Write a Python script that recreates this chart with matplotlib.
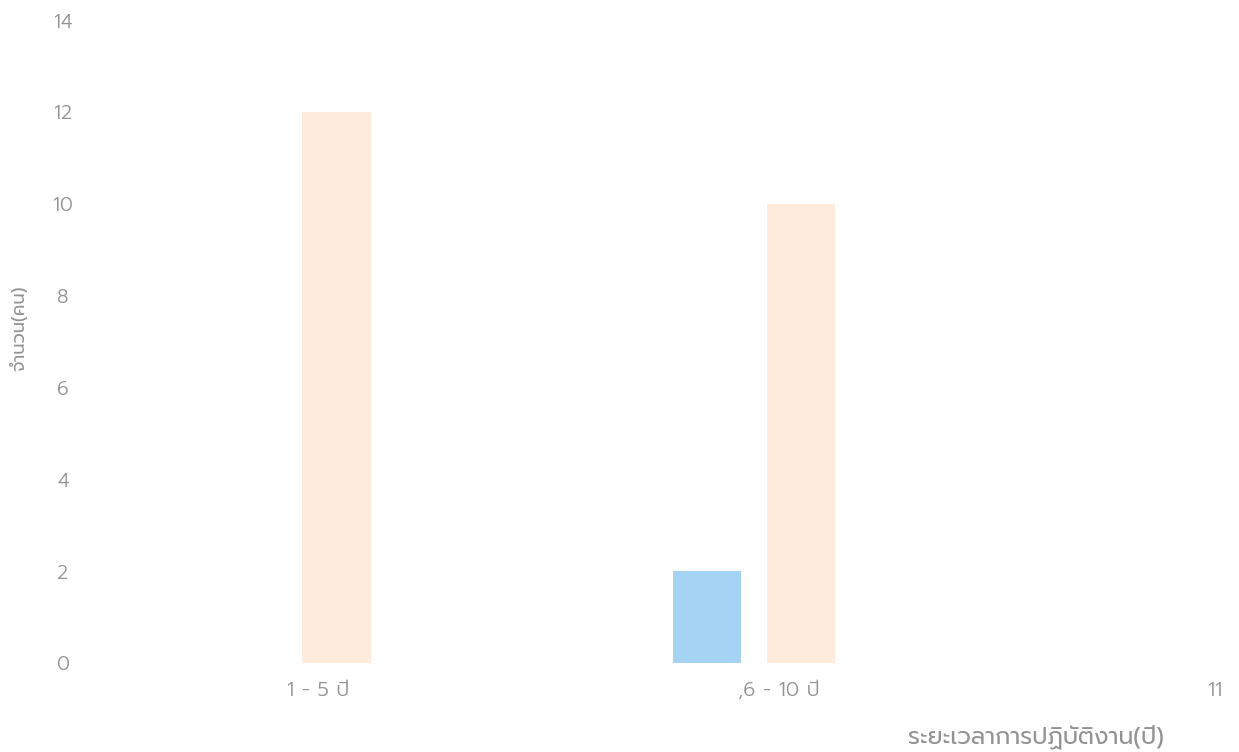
import matplotlib
matplotlib.use("Agg")
import matplotlib.pyplot as plt
import numpy as np

# ข้อมูล
categories = ["1 - 5 ปี", ",6 - 10 ปี", "11"]
blue_vals = [0, 2, 0]
peach_vals = [12, 10, 0]
y_ticks = [0, 2, 4, 6, 8, 10, 12, 14]

plt.rcParams['font.family'] = ['Prompt', 'Kanit', 'DejaVu Sans']
plt.rcParams['font.weight'] = 300

grey = '#939393'
fig = plt.figure(figsize=(12.39, 7.52), dpi=100)
ax = fig.add_axes([95/1239, 89/752, 1144/1239, 643/752])

x = np.arange(len(categories))
w = 0.147
ax.bar(x - 0.102, blue_vals, width=w, color='#a5d3f3')
ax.bar(x + 0.1, peach_vals, width=w, color='#fdecdb')

ax.set_xlim(-0.4198, 2.043)
ax.set_ylim(0, 14)
ax.set_yticks(y_ticks)
ax.tick_params(axis='y', length=0, pad=23, labelsize=14, labelcolor=grey)
for lab in ax.get_yticklabels():
    lab.set_horizontalalignment('center')

# ตำแหน่งป้ายแกน x
shift = [0.06, 0.053, -0.009]
ax.set_xticks(x + np.array(shift))
ax.set_xticklabels(categories)
ax.tick_params(axis='x', length=0, pad=13, labelsize=14.5, labelcolor=grey)

for s in ax.spines.values():
    s.set_visible(False)

ax.set_ylabel('จำนวน(คน)', color=grey, fontsize=13)
ax.yaxis.set_label_coords(-0.058, 0.521)
ax.set_xlabel('ระยะเวลาการปฏิบัติงาน(ปี)', color=grey, fontsize=17)
ax.xaxis.set_label_coords(0.8226, -0.095)

fig.savefig('out.png')
